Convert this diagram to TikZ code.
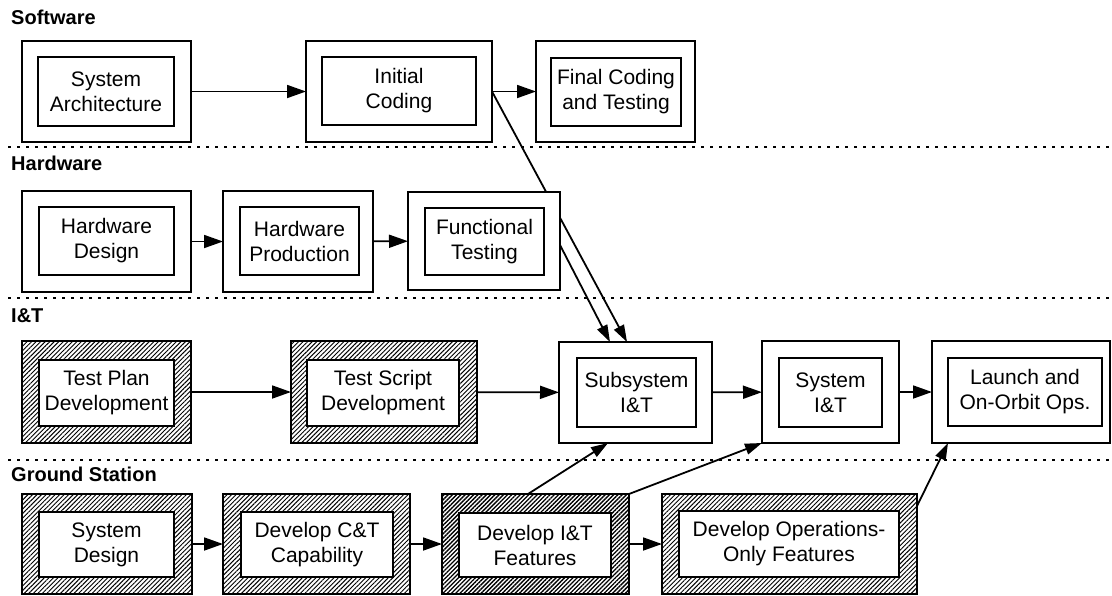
\documentclass[tikz,border=0pt]{standalone}
\usepackage{fontspec}
\setmainfont{Liberation Sans}
\usetikzlibrary{arrows.meta,patterns.meta}
\pgfdeclarelayer{behind}
\pgfsetlayers{behind,main}

% outer frame of a task: name, x1, y1, x2, y2 (page units, y downwards)
\newcommand\taskframe[6][frame]{%
  \node[#1, minimum width={(#5-#3)*1pt}, minimum height={(#6-#4)*1pt}]
    (#2) at ({(#3+#5)/2},{(#4+#6)/2}) {};}
% inner text box of a task: name, x1, y1, x2, y2, text
\newcommand\tasklabel[6]{%
  \node[inbox, minimum width={(#4-#2)*1pt}, minimum height={(#5-#3)*1pt}]
    (#1) at ({(#2+#4)/2},{(#3+#5)/2}) {#6};}

\begin{document}
\begin{tikzpicture}[x=1pt, y=-1pt,
  frame/.style={rectangle, draw, line width=1.8pt, fill=white, inner sep=0pt, outer sep=0pt},
  hatch/.style={frame, pattern={Lines[angle=45,distance=3.2pt,line width=0.95pt]}},
  darkhatch/.style={frame, pattern={Lines[angle=45,distance=3pt,line width=1.35pt]}},
  inbox/.style={rectangle, draw, line width=1.8pt, fill=white, inner sep=0pt,
    align=center, font=\fontsize{21}{25}\selectfont},
  lane/.style={anchor=base west, inner sep=0pt, font=\fontsize{20}{24}\selectfont\bfseries},
  sep/.style={line width=1.8pt, dash pattern=on 3pt off 6pt},
  flow/.style={line width=1.8pt, -{Triangle[length=19pt,width=13pt]}},
  slant/.style={line width=1.8pt, -{Triangle[length=17pt,width=11pt]}}]
\useasboundingbox (0,0) rectangle (1112,595);

% swimlane titles
\node[lane] (sw) at (11,24)  {Software};
\node[lane] (hw) at (11,170) {Hardware};
\node[lane] (it) at (11,322) {I\&T};
\node[lane] (gs) at (11,481) {Ground Station};

% lane separators
\draw[sep] (8,147) -- (1112,147);
\draw[sep] (8,298) -- (1112,298);
\draw[sep] (8,460) -- (1112,460);

% Software
\taskframe{sa}{22}{41}{191}{142}   \tasklabel{sa-t}{38}{57}{174}{126}{System\\Architecture}
\taskframe{ic}{306}{41}{492}{142}  \tasklabel{ic-t}{322}{57}{476}{125}{Initial\\Coding}
\taskframe{fc}{536}{41}{695}{142}  \tasklabel{fc-t}{551}{58}{681}{126}{Final Coding\\and Testing}

% Hardware
\taskframe{hd}{22}{191}{191}{292}  \tasklabel{hd-t}{39}{207}{174}{275}{Hardware\\Design}
\taskframe{hp}{223}{191}{373}{292} \tasklabel{hp-t}{240}{207}{359}{275}{Hardware\\Production}
\taskframe{ft}{408}{192}{560}{290} \tasklabel{ft-t}{425}{208}{544}{275}{Functional\\Testing}

% I&T
\taskframe[hatch]{tp}{22}{341}{191}{443}  \tasklabel{tp-t}{39}{360}{174}{426}{Test Plan\\Development}
\taskframe[hatch]{ts}{291}{341}{477}{443} \tasklabel{ts-t}{307}{360}{459}{426}{Test Script\\Development}
\taskframe{sub}{559}{342}{712}{443}       \tasklabel{sub-t}{577}{358}{696}{427}{Subsystem\\I\&T}
\taskframe{sys}{762}{341}{899}{443}       \tasklabel{sys-t}{779}{358}{882}{427}{System\\I\&T}
\taskframe{la}{932}{341}{1110}{443}       \tasklabel{la-t}{948}{358}{1102}{426}{Launch and\\On-Orbit Ops.}

% Ground Station
\taskframe[hatch]{sd}{22}{494}{192}{594}      \tasklabel{sd-t}{39}{512}{174}{577}{System\\Design}
\taskframe[hatch]{ct}{223}{494}{410}{594}     \tasklabel{ct-t}{241}{512}{393}{577}{Develop C\&T\\Capability}
\taskframe[darkhatch]{itf}{442}{494}{629}{594}\tasklabel{itf-t}{459}{513}{611}{577}{Develop I\&T\\Features}
\taskframe[hatch]{ops}{662}{494}{917}{594}    \tasklabel{ops-t}{679}{511}{899}{577}{Develop Operations-\\Only Features}

% flow within lanes
\draw[flow] (sa) -- (ic);
\draw[flow] (ic) -- (fc);
\draw[flow] (hd) -- (hp);
\draw[flow] (hp) -- (ft);
\draw[flow] (tp) -- (ts);
\draw[flow] (ts) -- (sub);
\draw[flow] (sub) -- (sys);
\draw[flow] (sys) -- (la);
\draw[flow] (sd) -- (ct);
\draw[flow] (ct) -- (itf);
\draw[flow] (itf) -- (ops);

% flow across lanes
\begin{pgfonlayer}{behind}
  \draw[slant] (ic.east) -- ([xshift=-8.5pt]sub.north);
\end{pgfonlayer}
\draw[slant] ([yshift=-4pt]ft.east) -- ([xshift=-25.5pt]sub.north);
\draw[slant] ([xshift=-7.5pt]itf.north) -- ([xshift=-27.5pt]sub.south);
\draw[slant] (itf.north east) -- (sys.south west);
\draw[slant] ([yshift=-12pt]ops.north east) -- ([xshift=16pt]la.south west);
\end{tikzpicture}
\end{document}
